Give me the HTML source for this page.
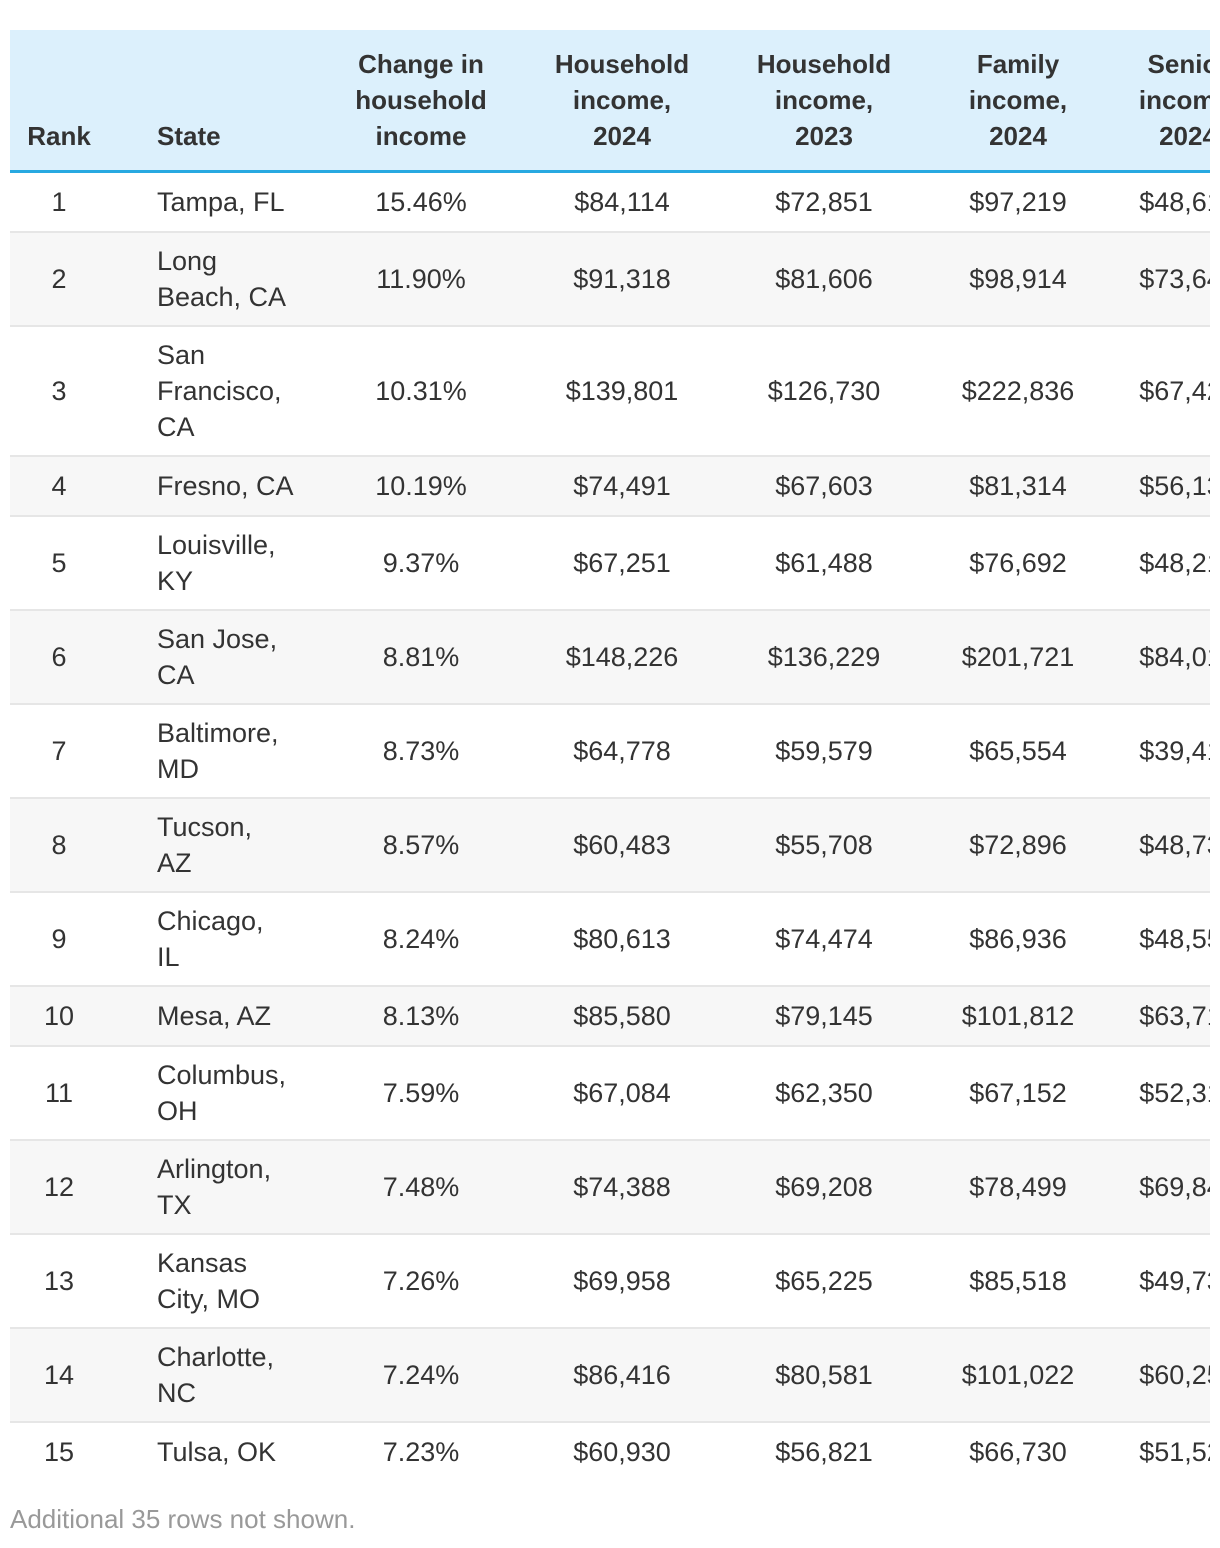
<!DOCTYPE html>
<html><head><meta charset="utf-8"><style>
body{margin:0;background:#fff;width:1220px;height:1548px;overflow:hidden;font-family:"Liberation Sans",sans-serif;color:#333}
.wrap{position:absolute;left:10px;top:30px;width:1200px;overflow:hidden}
table{border-collapse:collapse;table-layout:fixed;width:1256px}
th{background:#dcf0fc;font-weight:bold;font-size:26px;line-height:36px;height:108px;padding:16px 0;vertical-align:bottom;border-bottom:3px solid #27a9e1;text-align:center;white-space:nowrap}
td{font-size:27px;line-height:36px;text-align:center;white-space:nowrap;padding:0;border-top:2px solid #e6e6e6}
tr.e td{background:#f7f7f7}
tr:first-child td{border-top:none}
.st{text-align:left;padding-left:49px}
.foot{position:absolute;left:10px;top:1504px;font-size:26px;color:#999}
</style></head><body>
<div class="wrap">
<table>
<colgroup><col style="width:98px"><col style="width:212px"><col style="width:202px"><col style="width:200px"><col style="width:204px"><col style="width:184px"><col style="width:156px"></colgroup>
<thead><tr>
<th>Rank</th>
<th class="st">State</th>
<th>Change in<br>household<br>income</th>
<th>Household<br>income,<br>2024</th>
<th>Household<br>income,<br>2023</th>
<th>Family<br>income,<br>2024</th>
<th>Senior<br>income,<br>2024</th>
</tr></thead>
<tbody>
<tr style="height:60px"><td>1</td><td class="st">Tampa, FL</td><td>15.46%</td><td>$84,114</td><td>$72,851</td><td>$97,219</td><td>$48,612</td></tr>
<tr class="e" style="height:94px"><td>2</td><td class="st">Long<br>Beach, CA</td><td>11.90%</td><td>$91,318</td><td>$81,606</td><td>$98,914</td><td>$73,641</td></tr>
<tr style="height:130px"><td>3</td><td class="st">San<br>Francisco,<br>CA</td><td>10.31%</td><td>$139,801</td><td>$126,730</td><td>$222,836</td><td>$67,425</td></tr>
<tr class="e" style="height:60px"><td>4</td><td class="st">Fresno, CA</td><td>10.19%</td><td>$74,491</td><td>$67,603</td><td>$81,314</td><td>$56,138</td></tr>
<tr style="height:94px"><td>5</td><td class="st">Louisville,<br>KY</td><td>9.37%</td><td>$67,251</td><td>$61,488</td><td>$76,692</td><td>$48,213</td></tr>
<tr class="e" style="height:94px"><td>6</td><td class="st">San Jose,<br>CA</td><td>8.81%</td><td>$148,226</td><td>$136,229</td><td>$201,721</td><td>$84,017</td></tr>
<tr style="height:94px"><td>7</td><td class="st">Baltimore,<br>MD</td><td>8.73%</td><td>$64,778</td><td>$59,579</td><td>$65,554</td><td>$39,412</td></tr>
<tr class="e" style="height:94px"><td>8</td><td class="st">Tucson,<br>AZ</td><td>8.57%</td><td>$60,483</td><td>$55,708</td><td>$72,896</td><td>$48,731</td></tr>
<tr style="height:94px"><td>9</td><td class="st">Chicago,<br>IL</td><td>8.24%</td><td>$80,613</td><td>$74,474</td><td>$86,936</td><td>$48,552</td></tr>
<tr class="e" style="height:60px"><td>10</td><td class="st">Mesa, AZ</td><td>8.13%</td><td>$85,580</td><td>$79,145</td><td>$101,812</td><td>$63,719</td></tr>
<tr style="height:94px"><td>11</td><td class="st">Columbus,<br>OH</td><td>7.59%</td><td>$67,084</td><td>$62,350</td><td>$67,152</td><td>$52,318</td></tr>
<tr class="e" style="height:94px"><td>12</td><td class="st">Arlington,<br>TX</td><td>7.48%</td><td>$74,388</td><td>$69,208</td><td>$78,499</td><td>$69,845</td></tr>
<tr style="height:94px"><td>13</td><td class="st">Kansas<br>City, MO</td><td>7.26%</td><td>$69,958</td><td>$65,225</td><td>$85,518</td><td>$49,736</td></tr>
<tr class="e" style="height:94px"><td>14</td><td class="st">Charlotte,<br>NC</td><td>7.24%</td><td>$86,416</td><td>$80,581</td><td>$101,022</td><td>$60,254</td></tr>
<tr style="height:60px"><td>15</td><td class="st">Tulsa, OK</td><td>7.23%</td><td>$60,930</td><td>$56,821</td><td>$66,730</td><td>$51,527</td></tr>
</tbody></table></div>
<div class="foot">Additional 35 rows not shown.</div>
</body></html>
